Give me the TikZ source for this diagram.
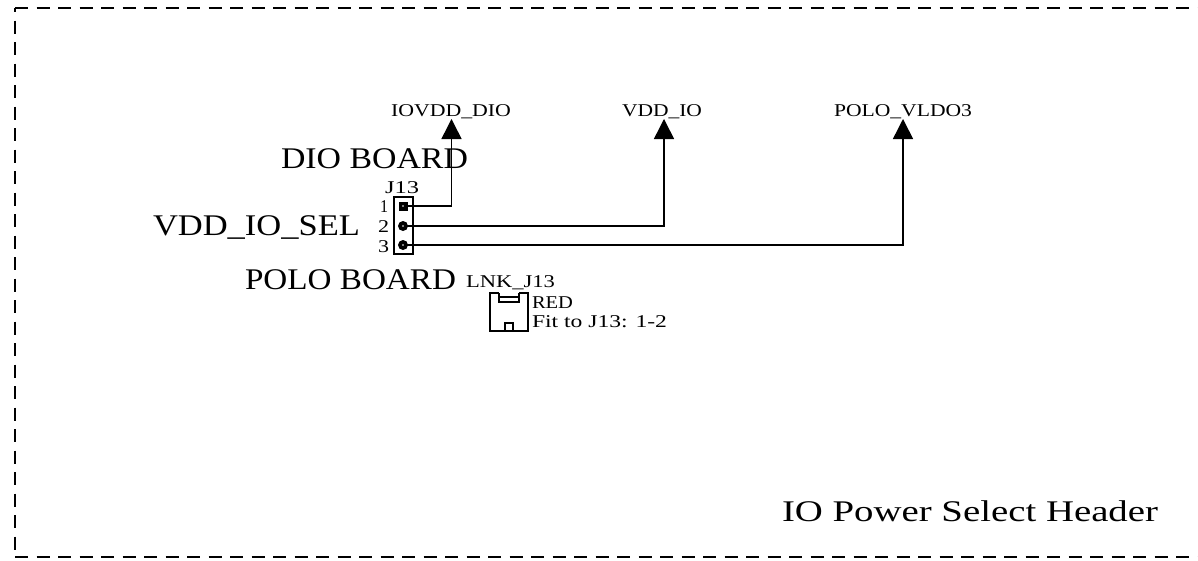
\documentclass[tikz,border=0pt]{standalone}
\usetikzlibrary{shapes.geometric}
\usepackage{fontspec}
\usepackage{graphicx}
\setmainfont{Liberation Serif}
\newcommand\fitw[2]{\setbox0\hbox{#2}\pgfmathsetmacro\fitr{#1/\wd0}\scalebox{\fitr}[1]{\box0}}
\begin{document}
\begin{tikzpicture}[x=1pt,y=-1pt,
  wire/.style={line width=1.5pt,black},
  lbl/.style={inner sep=0pt,outer sep=0pt,anchor=base west,font=\fontsize{#1}{#1}\selectfont},
  tri/.style={isosceles triangle,isosceles triangle apex angle=54,shape border rotate=90,fill=black,draw=none,minimum height=20pt,inner sep=0pt,outer sep=0pt},
  pin/.style={fill=black,inner sep=0pt,outer sep=0pt},
  jump/.style={line width=1.6pt},
  border/.style={line width=1.3pt,dash pattern=on 13pt off 8.5pt}]
\useasboundingbox (0,0) rectangle (1198,560);
\draw[border] (15,8) -- (1198,8);
\draw[border] (15,557) -- (1198,557);
\draw[border,dash phase=9pt] (15,8) -- (15,557);
% labels
\node[lbl=18] (ioa) at (391,116) {\fitw{120}{IOVDD\_DIO}};
\node[lbl=18] (iob) at (622,116) {\fitw{80}{VDD\_IO}};
\node[lbl=18] (ioc) at (834,116) {\fitw{138}{POLO\_VLDO3}};
\node[lbl=30] (dio) at (281,168) {\fitw{187}{DIO BOARD}};
\node[lbl=30] (sel) at (153,235.5) {\fitw{207}{VDD\_IO\_SEL}};
\node[lbl=30] (polo) at (245,289) {\fitw{211}{POLO BOARD}};
\node[lbl=18] (jname) at (385,193) {\fitw{34}{J13}};
\node[lbl=18] (n1) at (380,212) {\fitw{8}{1}};
\node[lbl=18] (n2) at (378,232.5) {\fitw{11}{2}};
\node[lbl=18] (n3) at (378,252) {\fitw{11}{3}};
\node[lbl=18] (lnk) at (466,287) {\fitw{89}{LNK\_J13}};
\node[lbl=18] (red) at (532,308) {\fitw{41}{RED}};
\node[lbl=18] (fit) at (532,327) {\fitw{135}{Fit to J13: 1-2}};
\node[lbl=30] (title) at (782,521) {\fitw{376}{IO Power Select Header}};
% header
\node[draw,line width=1.5pt,minimum width=19pt,minimum height=57pt,inner sep=0pt] (hdr) at (403.5,225.5) {};
\node[pin,minimum size=9pt] (p1) at (403,206) {};
\node[pin,circle,minimum size=10pt] (p2) at (403,226) {};
\node[pin,circle,minimum size=10pt] (p3) at (403,245) {};
% power arrows
\node[tri,anchor=south] (t1) at (451.5,139) {};
\node[tri,anchor=south] (t2) at (664,139) {};
\node[tri,anchor=south] (t3) at (903,139) {};
\draw[wire] (p1.center) -| (t1.south);
\draw[wire] (p2.center) -| (t2.south);
\draw[wire] (p3.center) -| (t3.south);
\fill[white] (p1) circle (.8pt) (p2) circle (.8pt) (p3) circle (.8pt);
% jumper
\draw[jump] (499,293) -- (490,293) -- (490,331) -- (505,331) -- (505,323) -- (513,323) -- (513,331) -- (528,331) -- (528,293) -- (519,293);
\draw[jump] (513,331) -- (505,331);
\draw[jump] (499,293) -- (499,302) -- (519,302) -- (519,293);
\draw[jump] (499,297) -- (519,297);
\end{tikzpicture}
\end{document}
